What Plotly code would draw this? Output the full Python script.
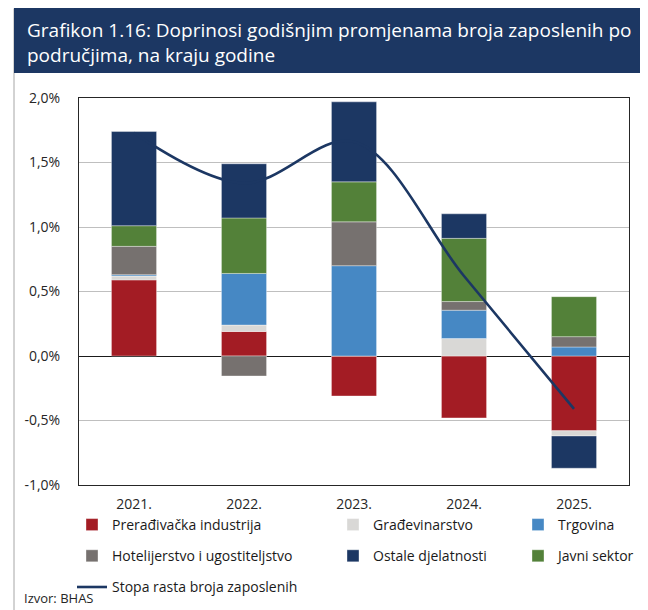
import plotly.graph_objects as go

# ---------------- data ----------------
categories = ["2021.", "2022.", "2023.", "2024.", "2025."]
preradjivacka = [0.59, 0.19, -0.31, -0.48, -0.58]
gradjevinarstvo = [0.03, 0.05, 0.0, 0.135, -0.04]
trgovina = [0.01, 0.40, 0.70, 0.22, 0.07]
hotelijerstvo = [0.22, -0.155, 0.34, 0.067, 0.08]
javni_sektor = [0.16, 0.43, 0.31, 0.49, 0.31]
ostale = [0.73, 0.42, 0.62, 0.19, -0.25]
stopa_rasta = [1.73, 1.34, 1.66, 0.62, -0.41]

y_tickvals = [-1.0, -0.5, 0.0, 0.5, 1.0, 1.5, 2.0]
y_ticktext = ["-1,0%", "-0,5%", "0,0%", "0,5%", "1,0%", "1,5%", "2,0%"]

title_text = ("Grafikon 1.16: Doprinosi godišnjim promjenama broja zaposlenih po"
              "<br>područjima, na kraju godine")
source_text = "Izvor: BHAS"

# ---------------- layout helpers ----------------
# the page body keeps its default 8px margin, so the figure is drawn 8px in
OFF = 8
W, H = 648 - OFF, 610 - OFF
L, R, T, B = 79 - OFF, 19, 98 - OFF, 125
PW, PH = W - L - R, H - T - B
FONT = "Open Sans"


def px(x):
    """screen x (reference pixels) -> paper x"""
    return (x - OFF - L) / PW


def py(y):
    """screen y (reference pixels) -> paper y"""
    return (H - B - (y - OFF)) / PH


colors = {
    "red": "#a31c24",
    "lgray": "#d9d8d6",
    "blue": "#4688c4",
    "gray": "#76716f",
    "green": "#538139",
    "navy": "#1c3763",
}

fig = go.Figure()

bar_series = [
    ("Prerađivačka industrija", preradjivacka, colors["red"], "legend"),
    ("Građevinarstvo", gradjevinarstvo, colors["lgray"], "legend2"),
    ("Trgovina", trgovina, colors["blue"], "legend3"),
    ("Hotelijerstvo i ugostiteljstvo", hotelijerstvo, colors["gray"], "legend"),
    ("Javni sektor", javni_sektor, colors["green"], "legend3"),
    ("Ostale djelatnosti", ostale, colors["navy"], "legend2"),
]

for name, vals, col, leg in bar_series:
    fig.add_trace(go.Bar(
        x=categories, y=vals, name=name,
        marker=dict(color=col, line=dict(color="rgba(255,255,255,0.6)", width=0.6)),
        width=0.41, legend=leg, legendgroup=name,
    ))

fig.add_trace(go.Scatter(
    x=categories, y=stopa_rasta, name="Stopa rasta broja zaposlenih",
    mode="lines", line=dict(color="#1c3763", width=2.6, shape="spline", smoothing=1.0),
    legend="legend", legendgroup="stopa",
))

legend_common = dict(
    font=dict(family=FONT, size=14, color="#1a1a1a"),
    bgcolor="rgba(0,0,0,0)", borderwidth=0,
    orientation="v", traceorder="grouped", tracegroupgap=10,
    xanchor="left", yanchor="top",
)

fig.update_layout(
    width=W, height=H,
    margin=dict(l=L, r=R, t=T, b=B, pad=0, autoexpand=False),
    paper_bgcolor="white", plot_bgcolor="white",
    barmode="relative",
    showlegend=True,
    legend=dict(x=px(72), y=py(509), **legend_common),
    legend2=dict(x=px(333), y=py(509), **legend_common),
    legend3=dict(x=px(518), y=py(509), **legend_common),
    font=dict(family=FONT, color="#262626"),
    xaxis=dict(
        showgrid=False, ticks="", showline=True, mirror=True,
        linecolor="#262626", linewidth=1.2,
        tickfont=dict(family=FONT, size=14, color="#262626"),
        ticklabelstandoff=6,
    ),
    yaxis=dict(
        range=[-1.0, 2.0], tickvals=y_tickvals, ticktext=y_ticktext,
        showgrid=True, gridcolor="#bfbfbf", gridwidth=1.2,
        zeroline=True, zerolinecolor="#1a1a1a", zerolinewidth=1,
        showline=True, mirror=True, linecolor="#262626", linewidth=1.2,
        ticks="", tickfont=dict(family=FONT, size=14, color="#262626"),
        ticklabelstandoff=15,
    ),
    shapes=[
        dict(type="rect", xref="paper", yref="paper",
             x0=px(14), x1=px(645), y0=py(8.5), y1=py(640),
             line=dict(color="#a6a6a6", width=1), fillcolor="rgba(0,0,0,0)", layer="below"),
        dict(type="rect", xref="paper", yref="paper",
             x0=px(14), x1=px(645), y0=py(7), y1=py(73),
             line=dict(width=0), fillcolor="#1c3763", layer="above"),
    ],
    annotations=[
        dict(text=title_text, xref="paper", yref="paper", x=px(25), y=py(43),
             xanchor="left", yanchor="middle", align="left", showarrow=False,
             font=dict(family=FONT, size=19, color="white")),
        dict(text=source_text, xref="paper", yref="paper", x=px(22), y=py(598),
             xanchor="left", yanchor="middle", align="left", showarrow=False,
             font=dict(family=FONT, size=13, color="#262626")),
    ],
)

fig.write_html("out.html")
